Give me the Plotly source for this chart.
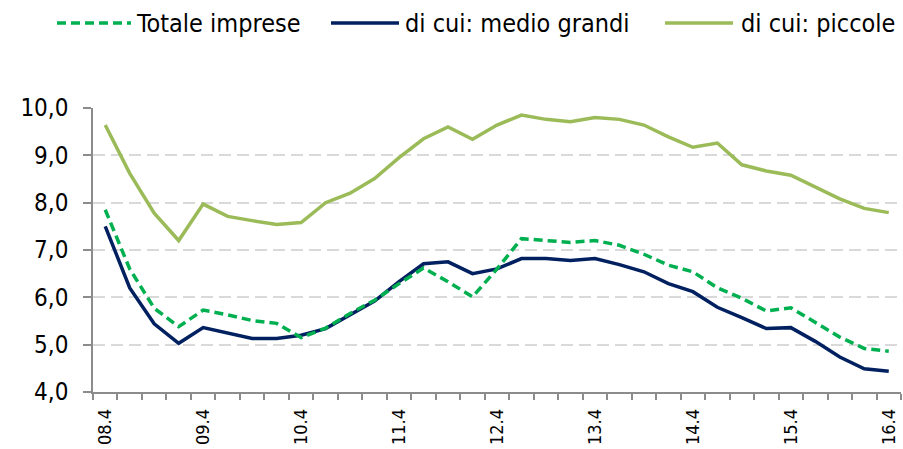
import plotly.graph_objects as go

quarters = ["08.4",
            "09.1", "09.2", "09.3", "09.4",
            "10.1", "10.2", "10.3", "10.4",
            "11.1", "11.2", "11.3", "11.4",
            "12.1", "12.2", "12.3", "12.4",
            "13.1", "13.2", "13.3", "13.4",
            "14.1", "14.2", "14.3", "14.4",
            "15.1", "15.2", "15.3", "15.4",
            "16.1", "16.2", "16.3", "16.4"]

totale_imprese = [7.85, 6.60, 5.77, 5.38, 5.73, 5.63, 5.51, 5.45, 5.15, 5.35, 5.66,
                  5.94, 6.29, 6.62, 6.33, 6.01, 6.60, 7.24, 7.20, 7.16, 7.20, 7.10,
                  6.91, 6.68, 6.54, 6.20, 5.98, 5.71, 5.78, 5.48, 5.16, 4.92, 4.86]
medio_grandi = [7.50, 6.20, 5.44, 5.03, 5.36, 5.24, 5.13, 5.13, 5.20, 5.34, 5.63,
                5.92, 6.33, 6.71, 6.75, 6.50, 6.60, 6.82, 6.82, 6.78, 6.82, 6.69,
                6.54, 6.29, 6.12, 5.79, 5.57, 5.34, 5.36, 5.07, 4.74, 4.49, 4.44]
piccole = [9.64, 8.62, 7.78, 7.20, 7.97, 7.71, 7.62, 7.54, 7.58, 8.00, 8.20,
           8.51, 8.95, 9.35, 9.60, 9.34, 9.64, 9.85, 9.76, 9.71, 9.80, 9.76,
           9.64, 9.39, 9.17, 9.26, 8.80, 8.67, 8.58, 8.32, 8.08, 7.88, 7.79]

series_names = ["Totale imprese", "di cui: medio grandi", "di cui: piccole"]
y_ticks = [4, 5, 6, 7, 8, 9, 10]

C_TOT = "#00B050"
C_MED = "#002060"
C_PIC = "#9BBB59"
AXIS = "#8C8C8C"
GRID = "#D9D9D9"
FONT = "DejaVu Sans Condensed, DejaVu Sans, sans-serif"

W, H = 903, 449
ML, MR, MT, MB = 93, 2, 108, 57

x = list(range(len(quarters)))

fig = go.Figure()
fig.add_trace(go.Scatter(x=x, y=piccole, mode="lines", name=series_names[2],
                         line=dict(color=C_PIC, width=3.5), showlegend=False))
fig.add_trace(go.Scatter(x=x, y=medio_grandi, mode="lines", name=series_names[1],
                         line=dict(color=C_MED, width=3.5), showlegend=False))
fig.add_trace(go.Scatter(x=x, y=totale_imprese, mode="lines", name=series_names[0],
                         line=dict(color=C_TOT, width=3.5, dash="9px,5px"), showlegend=False))

major_idx = list(range(0, len(quarters), 4))
boundaries = [i - 0.5 for i in range(len(quarters) + 1)]

fig.update_xaxes(
    range=[-0.5, len(quarters) - 0.5], automargin=False,
    tickmode="array", tickvals=major_idx, ticktext=[quarters[i] for i in major_idx],
    tickangle=-90, ticks="", ticklabelstandoff=8,
    tickfont=dict(family=FONT, size=18, color="#000000"),
    showline=True, linecolor=AXIS, linewidth=1.5,
    showgrid=False, zeroline=False,
    minor=dict(tickmode="array", tickvals=boundaries, ticks="outside",
               ticklen=6, tickcolor=AXIS, tickwidth=1.5, showgrid=False),
)
fig.update_yaxes(
    range=[4, 10], automargin=False,
    tickmode="array", tickvals=y_ticks, tickformat=".1f",
    ticks="outside", ticklen=8, tickcolor=AXIS, tickwidth=1.5,
    ticklabelstandoff=10,
    tickfont=dict(family=FONT, size=24, color="#000000"),
    showline=True, linecolor=AXIS, linewidth=1.5,
    showgrid=True, gridcolor=GRID, gridwidth=1.5, griddash="12px,6px",
    zeroline=False,
)

# custom legend (layout elements, positioned in pixels -> paper)
pw, ph = W - ML - MR, H - MT - MB
def px(xp):
    return (xp - ML) / pw
def py(yp):
    return (H - MB - yp) / ph

legend_items = [
    (series_names[0], C_TOT, "9px,5px", 57, 131, 134),
    (series_names[1], C_MED, "solid", 331, 399, 403),
    (series_names[2], C_PIC, "solid", 665, 733, 739),
]
ly = 23
for name, col, dash, x0, x1, tx in legend_items:
    fig.add_shape(type="line", xref="paper", yref="paper",
                  x0=px(x0), x1=px(x1), y0=py(ly), y1=py(ly),
                  line=dict(color=col, width=3.5, dash=dash))
    fig.add_annotation(xref="paper", yref="paper", x=px(tx), y=py(ly),
                       xanchor="left", yanchor="middle", showarrow=False,
                       text=name, font=dict(family=FONT, size=25, color="#000000"))

fig.update_layout(
    width=W, height=H,
    margin=dict(l=ML, r=MR, t=MT, b=MB, autoexpand=False),
    paper_bgcolor="white", plot_bgcolor="white",
    separators=",.",
    showlegend=False,
)

fig.write_html("out.html",
               config={"displayModeBar": False},
               post_script="document.body.style.margin='0';document.body.style.overflow='hidden';")
